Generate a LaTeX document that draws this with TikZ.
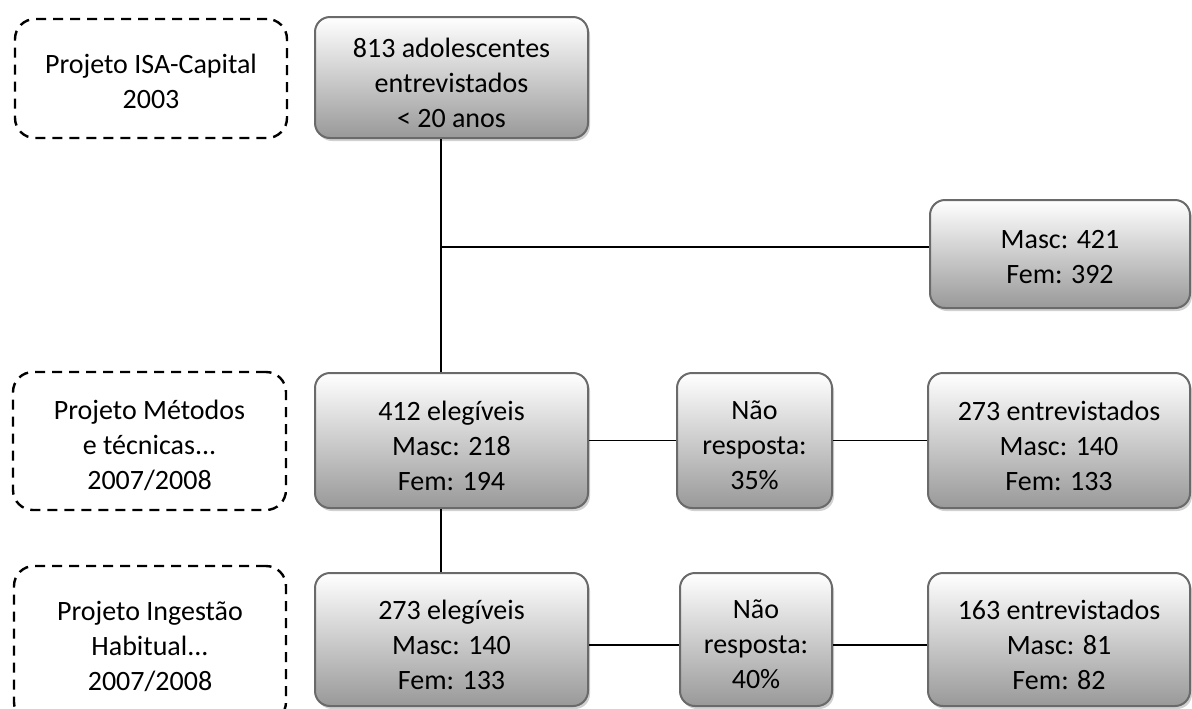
\documentclass[tikz,border=0pt]{standalone}
\usepackage{fontspec}
\setmainfont{Carlito}
\usetikzlibrary{shadows}
\definecolor{boxborder}{HTML}{6A6A6A}
\tikzset{
  px/.style={x=0.5pt,y=-0.5pt},
  gbox/.style={draw=boxborder, line width=1pt, rounded corners=7.5pt,
    top color=white, bottom color=black!40, inner sep=0pt,
    drop shadow={shadow xshift=1pt, shadow yshift=-1.5pt, fill=black!30, opacity=0.6}},
  dbox/.style={draw=black, line width=1.2pt, dash pattern=on 5pt off 3.5pt,
    rounded corners=10pt, inner sep=0pt},
  btext/.style={align=center, inner sep=0pt, text=black,
    font=\fontsize{14}{17.5}\selectfont},
  conn/.style={draw=black, line width=0.75pt}
}
\begin{document}
\begin{tikzpicture}[px]
\useasboundingbox (0,0) rectangle (1192,708);
% project labels
\node[dbox, minimum width=136pt, minimum height=59.5pt] (d1) at (151,78.5) {};
\node[btext] (d1t) at ([yshift=-1.5pt]d1.center) {Projeto ISA-Capital\\2003};
\node[dbox, minimum width=136.5pt, minimum height=69pt] (d2) at (149.5,441) {};
\node[btext] (d2t) at ([yshift=-2pt]d2.center) {Projeto Métodos\\e técnicas...\\2007/2008};
\node[dbox, minimum width=136pt, minimum height=78pt] (d3) at (150,644) {};
\node[btext] (d3t) at ([yshift=-1pt]d3.center) {Projeto Ingestão\\Habitual...\\2007/2008};
% boxes
\node[gbox, minimum width=136.5pt, minimum height=60.5pt] (top) at (451.5,77.5) {};
\node[btext] (topt) at ([yshift=-2.5pt]top.center) {813 adolescentes\\entrevistados\\< 20 anos};
\node[gbox, minimum width=130pt, minimum height=54pt] (mf) at (1060,254) {};
\node[btext] (mft) at ([yshift=-1.5pt]mf.center) {Masc: 421\\Fem: 392};
\node[gbox, minimum width=136.5pt, minimum height=67.5pt] (e412) at (451.5,440.5) {};
\node[btext] (e412t) at ([yshift=-2.5pt]e412.center) {412 elegíveis\\Masc: 218\\Fem: 194};
\node[gbox, minimum width=77.5pt, minimum height=67.5pt] (nr35) at (754.5,440.5) {};
\node[btext] (nr35t) at ([yshift=-2.5pt]nr35.center) {Não\\resposta:\\35\%};
\node[gbox, minimum width=131pt, minimum height=67.5pt] (e273i) at (1059,440.5) {};
\node[btext] (e273it) at ([yshift=-2.5pt]e273i.center) {273 entrevistados\\Masc: 140\\Fem: 133};
\node[gbox, minimum width=136.5pt, minimum height=66.5pt] (e273) at (451.5,639.5) {};
\node[btext] (e273t) at ([yshift=-2.5pt]e273.center) {273 elegíveis\\Masc: 140\\Fem: 133};
\node[gbox, minimum width=76pt, minimum height=66.5pt] (nr40) at (756,639.5) {};
\node[btext] (nr40t) at ([yshift=-2.5pt]nr40.center) {Não\\resposta:\\40\%};
\node[gbox, minimum width=131pt, minimum height=66.5pt] (e163) at (1059,639.5) {};
\node[btext] (e163t) at ([yshift=-2.5pt]e163.center) {163 entrevistados\\Masc: 81\\Fem: 82};
% connectors
\coordinate (j) at ([xshift=-5.25pt]top.south |- 0,247);
\draw[conn] ([xshift=-5.25pt]top.south) -- ([xshift=-5.25pt]e412.north);
\draw[conn] (j) -- (j -| mf.west);
\draw[conn] (e412.east) -- (nr35.west);
\draw[conn] (nr35.east) -- (e273i.west);
\draw[conn] ([xshift=-5.25pt]e412.south) -- ([xshift=-5.25pt]e273.north);
\draw[conn] ([yshift=-2.75pt]e273.east) -- ([yshift=-2.75pt]nr40.west);
\draw[conn] ([yshift=-2.75pt]nr40.east) -- ([yshift=-2.75pt]e163.west);
\end{tikzpicture}
\end{document}
